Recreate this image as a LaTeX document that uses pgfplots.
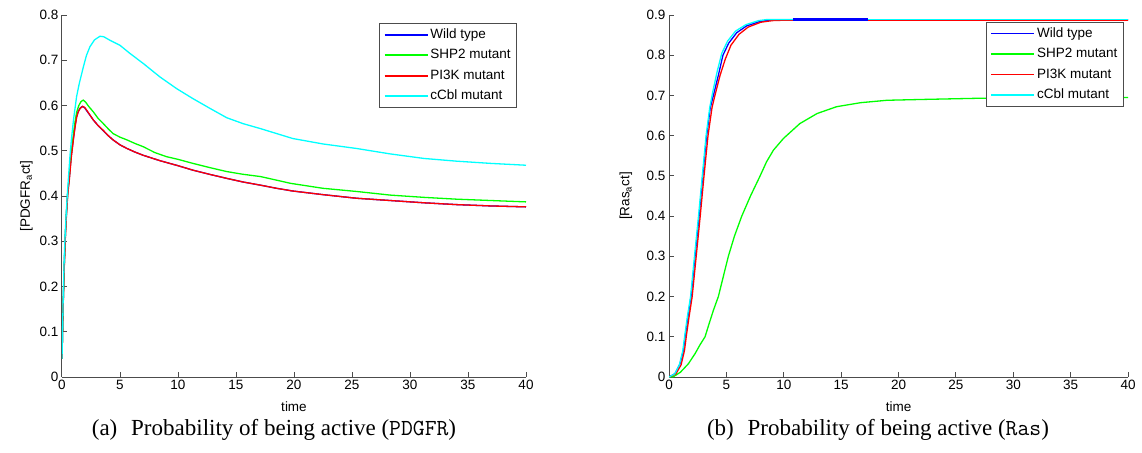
\documentclass[border=0pt]{standalone}
\usepackage{pgfplots}
\pgfplotsset{compat=1.18}
\usepackage{fontspec}
\setmainfont{Liberation Serif}
\newfontfamily\arialfont{Liberation Sans}
\newcommand{\sfsize}{\arialfont\fontsize{13.5}{15}\selectfont}
\definecolor{mblue}{rgb}{0,0,1}
\definecolor{mgreen}{rgb}{0,1,0}
\definecolor{mred}{rgb}{1,0,0}
\definecolor{mcyan}{rgb}{0,1,1}
\definecolor{axgray}{rgb}{0.3,0.3,0.3}

\pgfplotsset{
  mystyle/.style={
    scale only axis, width=464pt, height=362pt,
    axis x line*=bottom, axis y line*=left,
    xmin=0, xmax=40, xtick={0,5,...,40},
    ymin=0,
    tick align=inside, major tick length=5pt,
    axis line style={draw=axgray, line width=1pt},
    every tick/.style={draw=axgray, line width=1pt},
    tick label style={font=\sfsize, text=black},
    /pgf/number format/assume math mode=true,
    yticklabel style={/pgf/number format/fixed, /pgf/number format/precision=1},
    label style={font=\sfsize},
    xlabel={time},
    xlabel style={at={(axis description cs:0.5,-0.083)}, anchor=center},
    legend cell align=left,
    legend image code/.code={\draw[#1, line width=1.6pt] (4pt,3.5pt) -- (47pt,3.5pt);},
    legend style={anchor=north east, draw=axgray, line width=1pt, fill=white,
      font=\sfsize, inner xsep=4pt, inner ysep=1pt, row sep=0pt,
      nodes={inner ysep=3.75pt, text height=10pt, text depth=3pt, anchor=base west}},
    every axis plot/.append style={line width=1.3pt},
  }
}

\begin{document}
\begin{tikzpicture}
\useasboundingbox (0pt,0pt) rectangle (1142pt,-452pt);

% ---------------- left: PDGFR ----------------
\begin{axis}[mystyle, at={(62pt,-377pt)}, anchor=south west,
  ymax=0.8, ytick={0,0.1,...,0.8},
  ylabel={[PDGFR\textsubscript{a}ct]},
  ylabel style={at={(axis description cs:-0.077,0.5)}, anchor=center},
  legend style={at={(0.981,0.978)}}]
\addplot[draw=mblue] coordinates {(0,0.04)(0.1,0.16)(0.2,0.25)(0.3,0.32)(0.4,0.37)(0.5,0.41)(0.63,0.44)(0.8,0.49)(1.0,0.53)(1.13,0.555)(1.26,0.575)(1.4,0.587)(1.55,0.594)(1.75,0.598)(1.95,0.595)(2.2,0.586)(2.7,0.568)(3.1,0.556)(3.56,0.544)(4.0,0.533)(4.4,0.524)(5.0,0.513)(5.6,0.505)(6.3,0.497)(7.0,0.490)(8.45,0.478)(10,0.467)(11.3,0.457)(12.7,0.448)(14.2,0.439)(15.6,0.431)(17.1,0.424)(18.5,0.417)(19.9,0.411)(22.5,0.403)(25.4,0.395)(28.3,0.390)(31.2,0.385)(34,0.381)(37,0.378)(40,0.376)};
\addlegendentry{Wild type}
\addplot[draw=mgreen] coordinates {(0,0.04)(0.1,0.16)(0.2,0.25)(0.3,0.32)(0.4,0.37)(0.5,0.41)(0.63,0.445)(0.8,0.495)(1.0,0.54)(1.13,0.565)(1.26,0.585)(1.45,0.6)(1.65,0.609)(1.84,0.612)(2.05,0.607)(2.3,0.598)(2.7,0.586)(3.1,0.572)(3.56,0.560)(4.0,0.548)(4.4,0.538)(5.0,0.53)(5.6,0.524)(6.3,0.516)(7.0,0.509)(8,0.496)(9,0.487)(10,0.481)(11.3,0.472)(12.7,0.463)(14.2,0.454)(15.6,0.448)(17.1,0.443)(18.5,0.435)(19.7,0.428)(22.5,0.417)(25.4,0.41)(28.3,0.402)(31.2,0.397)(34,0.393)(37,0.390)(40,0.387)};
\addlegendentry{SHP2 mutant}
\addplot[draw=mred] coordinates {(0,0.04)(0.1,0.155)(0.2,0.245)(0.3,0.315)(0.4,0.365)(0.5,0.405)(0.63,0.435)(0.8,0.485)(1.0,0.528)(1.13,0.553)(1.26,0.574)(1.4,0.586)(1.55,0.593)(1.78,0.598)(1.95,0.596)(2.2,0.587)(2.7,0.568)(3.1,0.556)(3.56,0.545)(4.0,0.533)(4.4,0.524)(5.0,0.513)(5.6,0.505)(6.3,0.497)(7.0,0.490)(8.45,0.478)(10,0.467)(11.3,0.457)(12.7,0.448)(14.2,0.439)(15.6,0.431)(17.1,0.424)(18.5,0.417)(19.9,0.411)(22.5,0.403)(25.4,0.395)(28.3,0.390)(31.2,0.385)(34,0.381)(37,0.378)(40,0.376)};
\addlegendentry{PI3K mutant}
\addplot[draw=mcyan] coordinates {(0,0.04)(0.1,0.17)(0.2,0.27)(0.3,0.33)(0.45,0.4)(0.69,0.49)(0.83,0.53)(1.0,0.57)(1.26,0.62)(1.5,0.65)(1.84,0.685)(2.1,0.71)(2.41,0.73)(2.8,0.745)(3.27,0.753)(3.6,0.752)(4.14,0.744)(5.0,0.733)(5.86,0.715)(7.0,0.693)(8.45,0.663)(9.9,0.637)(11.3,0.615)(12.8,0.593)(14.2,0.573)(15.6,0.56)(17.1,0.549)(18.5,0.538)(19.9,0.527)(22.5,0.515)(25.4,0.505)(28.3,0.493)(31.2,0.483)(34,0.477)(37,0.472)(40,0.468)};
\addlegendentry{cCbl mutant}
\end{axis}

% ---------------- right: Ras ----------------
\begin{axis}[mystyle, at={(669pt,-377pt)}, anchor=south west, width=459pt,
  ymax=0.9, ytick={0,0.1,...,0.9},
  ylabel={[Ras\textsubscript{a}ct]},
  ylabel style={at={(axis description cs:-0.094,0.5)}, anchor=center},
  legend style={at={(0.991,0.981)}}]
\addplot[draw=mblue] coordinates {(0,0)(0.52,0.008)(0.96,0.033)(1.25,0.066)(1.4,0.1)(1.65,0.15)(1.92,0.2)(2.27,0.3)(2.62,0.4)(2.94,0.5)(3.28,0.6)(3.6,0.67)(3.87,0.7)(4.3,0.75)(4.7,0.8)(5.2,0.83)(5.9,0.856)(6.77,0.873)(7.94,0.884)(8.8,0.887)(10,0.888)(40,0.888)};
\addlegendentry{Wild type}
\addplot[draw=mgreen] coordinates {(0,0)(0.4,0.001)(1.0,0.012)(1.69,0.033)(2.27,0.058)(2.7,0.08)(3.14,0.1)(3.5,0.133)(3.87,0.166)(4.3,0.2)(5.17,0.3)(5.7,0.35)(6.34,0.4)(7.1,0.45)(7.94,0.5)(8.5,0.535)(9.1,0.564)(9.97,0.593)(11.4,0.63)(12.9,0.655)(14.6,0.672)(16.7,0.682)(19,0.688)(22,0.69)(27,0.693)(32,0.694)(40,0.695)};
\addlegendentry{SHP2 mutant}
\addplot[draw=mred] coordinates {(0,0)(0.6,0.008)(1.05,0.03)(1.35,0.066)(1.5,0.1)(1.75,0.15)(2.02,0.2)(2.37,0.3)(2.72,0.4)(3.05,0.5)(3.4,0.6)(3.75,0.67)(4.0,0.7)(4.45,0.75)(4.9,0.79)(5.4,0.825)(6.1,0.852)(6.9,0.870)(8.0,0.882)(9,0.886)(10,0.887)(40,0.887)};
\addlegendentry{PI3K mutant}
\addplot[draw=mcyan] coordinates {(0,0)(0.5,0.008)(0.9,0.03)(1.2,0.065)(1.36,0.1)(1.6,0.15)(1.88,0.2)(2.22,0.3)(2.57,0.4)(2.9,0.5)(3.23,0.6)(3.55,0.67)(3.82,0.71)(4.2,0.76)(4.6,0.805)(5.1,0.835)(5.8,0.86)(6.7,0.876)(7.8,0.886)(8.6,0.889)(10,0.889)(17.3,0.889)};
\addlegendentry{cCbl mutant}
\addplot[draw=mcyan, forget plot] coordinates {(17.3,0.889)(40,0.889)};
\addplot[draw=mblue, line width=2.5pt, forget plot] coordinates {(10.8,0.889)(17.3,0.889)};
\end{axis}

\node[font=\fontsize{23}{26}\selectfont] at (274pt,-430pt) {(a)\hskip0.6em Probability of being active (\texttt{PDGFR})};
\node[font=\fontsize{23}{26}\selectfont] at (878pt,-430pt) {(b)\hskip0.6em Probability of being active (\texttt{Ras})};
\end{tikzpicture}
\end{document}
